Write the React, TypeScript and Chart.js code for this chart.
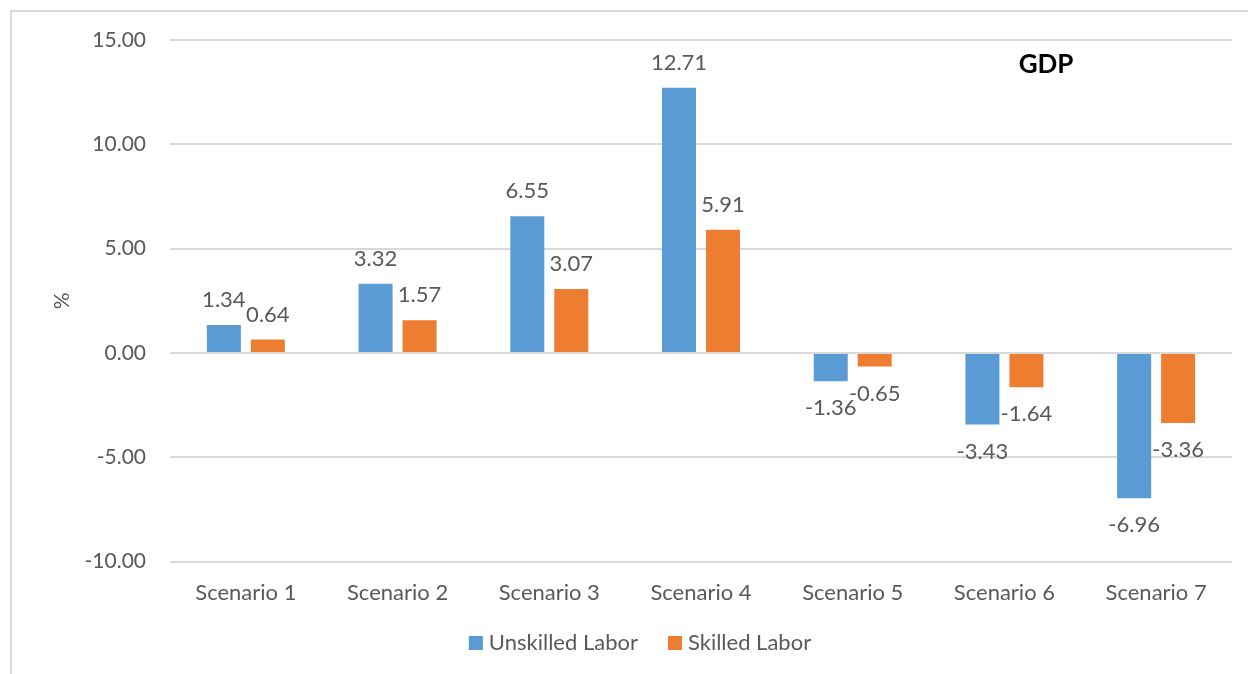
import React, { useEffect, useRef } from "react";
import { Chart, registerables } from "chart.js";

Chart.register(...registerables);

const categories = ["Scenario 1", "Scenario 2", "Scenario 3", "Scenario 4", "Scenario 5", "Scenario 6", "Scenario 7"];
const unskilled = [1.34, 3.32, 6.55, 12.71, -1.36, -3.43, -6.96];
const skilled = [0.64, 1.57, 3.07, 5.91, -0.65, -1.64, -3.36];
const seriesNames = ["Unskilled Labor", "Skilled Labor"];
const seriesColors = ["#5B9BD5", "#ED7D31"];
const chartTitle = "GDP";
const yTitle = "%";

const FONT = "Lato, 'Open Sans', sans-serif";
const TEXT = "#595959";

const labelPlugin = {
  id: "barLabels",
  afterDatasetsDraw(chart: any) {
    const ctx = chart.ctx;
    ctx.save();
    ctx.font = `22px ${FONT}`;
    ctx.fillStyle = TEXT;
    ctx.textAlign = "center";
    ctx.textBaseline = "middle";
    chart.data.datasets.forEach((ds: any, di: number) => {
      const meta = chart.getDatasetMeta(di);
      meta.data.forEach((el: any, i: number) => {
        const v = ds.data[i];
        const y = v >= 0 ? el.y - 25 : el.y + 27;
        ctx.fillText(v.toFixed(2), el.x, y);
      });
    });
    const area = chart.chartArea;
    ctx.font = `bold 26px ${FONT}`;
    ctx.fillStyle = "#000000";
    ctx.textAlign = "center";
    ctx.fillText(chartTitle, area.right - 186, area.top + 25);

    // legend
    ctx.font = `22px ${FONT}`;
    ctx.textAlign = "left";
    const box = 14;
    const gapText = 6;
    const gapItem = 30;
    const widths = seriesNames.map((n) => ctx.measureText(n).width);
    const total = widths.reduce((a, w) => a + box + gapText + w, 0) + gapItem * (seriesNames.length - 1);
    let x = 640 - total / 2;
    const ly = 643;
    seriesNames.forEach((n, i) => {
      ctx.fillStyle = seriesColors[i];
      ctx.fillRect(x, ly - box / 2, box, box);
      ctx.fillStyle = TEXT;
      ctx.fillText(n, x + box + gapText, ly);
      x += box + gapText + widths[i] + gapItem;
    });
    ctx.restore();
  },
};

export default function App() {
  const ref = useRef<HTMLCanvasElement | null>(null);
  useEffect(() => {
    document.body.style.margin = "0";
    document.body.style.overflow = "hidden";
    const chart = new Chart(ref.current as HTMLCanvasElement, {
      type: "bar",
      data: {
        labels: categories,
        datasets: [
          { label: seriesNames[0], data: unskilled, backgroundColor: seriesColors[0], borderWidth: 0 },
          { label: seriesNames[1], data: skilled, backgroundColor: seriesColors[1], borderWidth: 0 },
        ],
      },
      options: {
        animation: false,
        responsive: false,
        maintainAspectRatio: false,
        layout: { padding: { top: 40, right: 16, left: 0, bottom: 50 } },
        categoryPercentage: 0.58,
        barPercentage: 0.773,
        scales: {
          x: {
            grid: { display: false, drawTicks: false },
            border: { display: false },
            ticks: { color: TEXT, font: { family: FONT, size: 22 }, padding: 18 },
          },
          y: {
            min: -10,
            max: 15,
            ticks: {
              stepSize: 5,
              color: TEXT,
              font: { family: FONT, size: 21 },
              padding: 24,
              callback: (v: any) => Number(v).toFixed(2),
            },
            grid: { color: "#D9D9D9", lineWidth: 2, drawTicks: false },
            border: { display: false },
            title: { display: true, text: yTitle, color: TEXT, font: { family: FONT, size: 21 }, padding: { top: 50, bottom: 0 } },
            afterFit: (scale: any) => {
              scale.width = 170;
            },
          },
        },
        plugins: {
          legend: { display: false },
          tooltip: { enabled: false },
        },
      },
      plugins: [labelPlugin],
    });
    return () => chart.destroy();
  }, []);
  return (
    <div style={{ position: "relative", width: 1248, height: 674, overflow: "hidden", background: "#fff" }}>
      <div style={{ position: "absolute", left: 10, top: 10, width: 1300, height: 700, border: "2px solid #D9D9D9" }} />
      <canvas ref={ref} width={1248} height={674} style={{ position: "absolute", left: 0, top: 0 }} />
    </div>
  );
}
